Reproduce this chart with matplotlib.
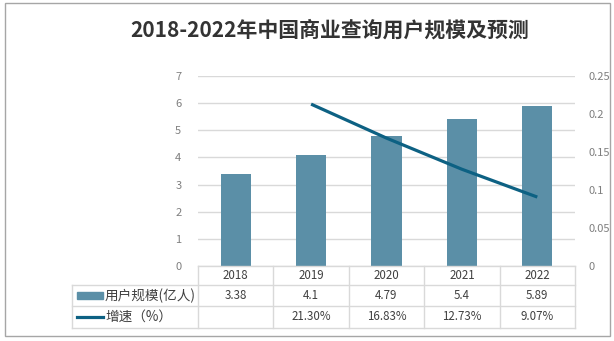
import matplotlib
matplotlib.use("Agg")
import matplotlib.pyplot as plt
from matplotlib.lines import Line2D
from matplotlib.patches import Rectangle

plt.rcParams['font.family'] = ['Noto Sans CJK SC', 'DejaVu Sans']

# ---- data ----
years = ["2018", "2019", "2020", "2021", "2022"]
users = [3.38, 4.1, 4.79, 5.4, 5.89]
growth = [None, 0.2130, 0.1683, 0.1273, 0.0907]
users_labels = ["3.38", "4.1", "4.79", "5.4", "5.89"]
growth_labels = ["", "21.30%", "16.83%", "12.73%", "9.07%"]
series_names = ["用户规模(亿人)", "增速（%）"]
title = "2018-2022年中国商业查询用户规模及预测"

W, H = 614, 341
fig = plt.figure(figsize=(W / 100, H / 100), dpi=100)

def fx(x):
    return x / W

def fy(y):
    return 1 - y / H

bar_color = "#5B8FA7"
line_color = "#0D6183"
grid_color = "#D9D9D9"
tick_color = "#7F7F7F"
text_color = "#404040"

# plot area in pixels
L, R, T, B = 198, 575, 76, 266
ax = fig.add_axes([fx(L), fy(B), fx(R) - fx(L), fy(T) - fy(B)])
xs = list(range(len(years)))
ax.bar(xs, users, width=0.4, color=bar_color, zorder=3)
ax.set_xlim(-0.5, len(years) - 0.5)
ax.set_ylim(0, 7)
ax.set_yticks(range(0, 8))
ax.set_yticklabels([str(v) for v in range(0, 8)])
ax.set_xticks([])
ax.grid(axis='y', color=grid_color, linewidth=1, zorder=0)
for s in ax.spines.values():
    s.set_visible(False)
ax.tick_params(axis='y', length=0, pad=12, labelsize=8, labelcolor=tick_color)

ax2 = ax.twinx()
gx = [x for x, g in zip(xs, growth) if g is not None]
gy = [g for g in growth if g is not None]
ax2.plot(gx, gy, color=line_color, linewidth=2.3, solid_capstyle='butt', zorder=4)
ax2.set_ylim(0, 0.25)
ax2.set_yticks([0, 0.05, 0.1, 0.15, 0.2, 0.25])
ax2.set_yticklabels(["0", "0.05", "0.1", "0.15", "0.2", "0.25"])
for s in ax2.spines.values():
    s.set_visible(False)
ax2.tick_params(axis='y', length=0, pad=10, labelsize=8, labelcolor=tick_color)

# ---- title ----
fig.text(fx(330), fy(30), title, ha='center', va='center', fontsize=15,
         fontweight='bold', color="#333333")

# ---- data table ----
tbl_color = "#D9D9D9"
rows_y = [266, 285, 306, 328]
col_x = [L + (R - L) * i / len(years) for i in range(len(years) + 1)]
legend_left = 72

def hline(x0, x1, y):
    fig.add_artist(Line2D([fx(x0), fx(x1)], [fy(y), fy(y)], color=tbl_color, linewidth=1))

def vline(x, y0, y1):
    fig.add_artist(Line2D([fx(x), fx(x)], [fy(y0), fy(y1)], color=tbl_color, linewidth=1))

hline(L, R, rows_y[0])
for y in rows_y[1:]:
    hline(legend_left, R, y)
for x in col_x:
    vline(x, rows_y[0], rows_y[3])
vline(legend_left, rows_y[1], rows_y[3])

cell_fs = 8.3
for i in range(len(years)):
    cx = (col_x[i] + col_x[i + 1]) / 2
    fig.text(fx(cx), fy((rows_y[0] + rows_y[1]) / 2), years[i], ha='center', va='center',
             fontsize=cell_fs, color=text_color)
    fig.text(fx(cx), fy((rows_y[1] + rows_y[2]) / 2), users_labels[i], ha='center', va='center',
             fontsize=cell_fs, color=text_color)
    fig.text(fx(cx), fy((rows_y[2] + rows_y[3]) / 2), growth_labels[i], ha='center', va='center',
             fontsize=cell_fs, color=text_color)

# legend keys
r1 = (rows_y[1] + rows_y[2]) / 2
r2 = (rows_y[2] + rows_y[3]) / 2
fig.add_artist(Rectangle((fx(77), fy(r1 + 3.5)), fx(103) - fx(77), (7 / H),
                         color=bar_color, transform=fig.transFigure))
fig.add_artist(Line2D([fx(77), fx(103)], [fy(r2), fy(r2)], color=line_color, linewidth=2.3))
fig.text(fx(105), fy(r1), series_names[0], ha='left', va='center', fontsize=9.8,
         color=text_color)
fig.text(fx(105), fy(r2), series_names[1], ha='left', va='center', fontsize=9.8,
         color=text_color)

# outer border
fig.add_artist(Rectangle((fx(5), fy(336)), fx(610) - fx(5), fy(3) - fy(336), fill=False,
                         edgecolor="#A6A6A6", linewidth=1, transform=fig.transFigure))

fig.savefig("out.png", dpi=100, facecolor='white')
